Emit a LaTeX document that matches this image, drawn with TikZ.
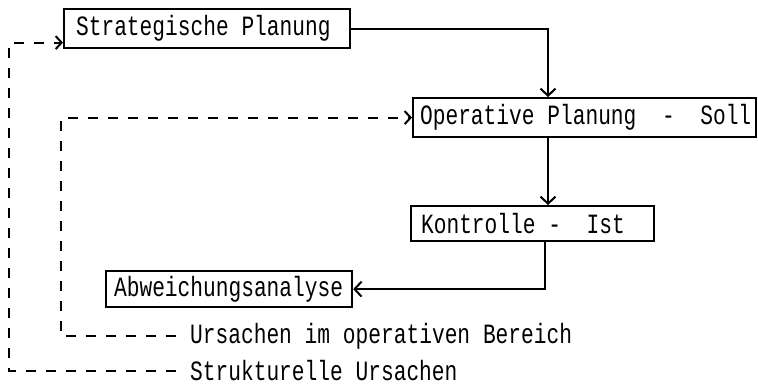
\documentclass[tikz,border=0pt]{standalone}
\usepackage{fontspec}
\newfontfamily\twfont[FakeStretch=0.76]{Liberation Mono}
\usetikzlibrary{arrows.meta}
\newcommand\chsp{\hspace*{12.8bp}}
\begin{document}
\begin{tikzpicture}[x=1bp,y=-1bp,
  every node/.style={font=\twfont\fontsize{28}{30}\selectfont},
  box/.style={draw, line width=2.2bp, anchor=north west, inner ysep=0pt, align=left},
  lbl/.style={anchor=west, inner xsep=14bp, inner ysep=0pt},
  solidline/.style={line width=2.2bp, -{Straight Barb[length=7bp,width=15bp,line width=2bp]}},
  dashline/.style={line width=2.2bp, dash pattern=on 10bp off 10bp, -{Straight Barb[length=6bp,width=13bp,line width=2bp]}}
]
\useasboundingbox (0,0) rectangle (758,386);
\node[box, inner xsep=12bp, text width=262bp, minimum height=39bp] (sp) at (63,8) {\mbox{Strategische\chsp Planung}};
\node[box, inner xsep=7bp, text width=329bp, minimum height=39bp] (op) at (412,97) {\mbox{Operative\chsp Planung\chsp\chsp -\chsp\chsp Soll}};
\node[box, inner xsep=10bp, text width=223bp, minimum height=35bp] (kt) at (410,205) {\mbox{Kontrolle\chsp -\chsp\chsp Ist}};
\node[box, inner xsep=8bp, text width=230bp, minimum height=36bp] (ab) at (105,270) {\mbox{Abweichungsanalyse}};
\node[lbl] (u1) at (176,336) {Ursachen\chsp im\chsp operativen\chsp Bereich};
\node[lbl] (u2) at (176,371) {Strukturelle\chsp Ursachen};
\coordinate (cx) at (548,0);
\coordinate (cin) at (61,0);
\coordinate (cout) at (9,0);
\coordinate (spin) at ([yshift=-14bp]sp.west);
\draw[solidline] (sp.east) -| (cx |- op.north);
\draw[solidline] (cx |- op.south) -- (cx |- kt.north);
\draw[solidline] ([xshift=-3bp]cx |- kt.south) |- (ab.east);
\draw[dashline] (u1.west) -| (cin |- op.west) -- (op.west);
\draw[dashline] (u2.west) -| (cout |- spin) -- (spin);
\end{tikzpicture}
\end{document}
